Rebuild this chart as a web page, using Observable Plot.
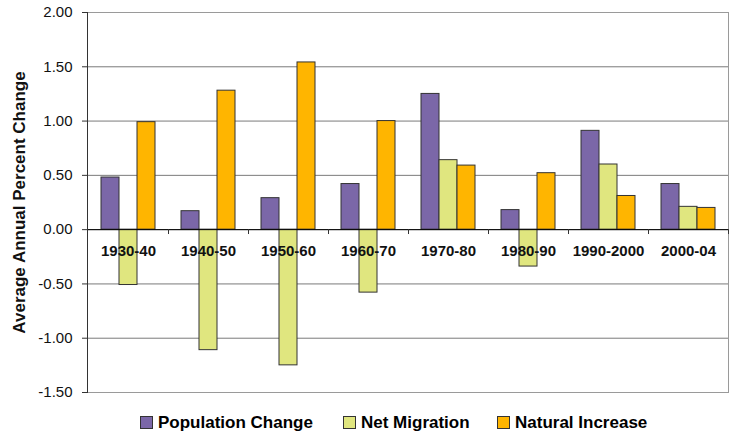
<!DOCTYPE html>
<html><head><meta charset="utf-8">
<script src="https://cdn.jsdelivr.net/npm/d3@7"></script>
<script src="https://cdn.jsdelivr.net/npm/@observablehq/plot@0.6"></script>
<style>
body{margin:0;background:#fff;font-family:"Liberation Sans",Arial,sans-serif;}
#chart{position:relative;width:733px;height:436px;overflow:hidden;}
.legend{position:absolute;top:413px;left:0;width:733px;height:19px;font-weight:bold;font-size:17px;color:#000;}
.item{position:absolute;top:0;height:19px;display:flex;align-items:center;white-space:nowrap;}
.sw{width:11px;height:11px;border:1px solid #333;margin-right:5px;box-sizing:content-box;}
</style></head><body><div id="chart"></div>
<script>
const periods = ["1930-40","1940-50","1950-60","1960-70","1970-80","1980-90","1990-2000","2000-04"];
const populationChange = [0.48, 0.17, 0.29, 0.42, 1.25, 0.18, 0.91, 0.42];
const netMigration = [-0.51, -1.11, -1.25, -0.58, 0.64, -0.34, 0.60, 0.21];
const naturalIncrease = [0.99, 1.28, 1.54, 1.00, 0.59, 0.52, 0.31, 0.20];
const seriesNames = ["Population Change","Net Migration","Natural Increase"];
const seriesColors = ["#7B67A8","#E0E67F","#FFB500"];
const yTicks = [-1.5, -1, -0.5, 0, 0.5, 1, 1.5, 2];
const yTitle = "Average Annual Percent Change";

const seriesValues = [populationChange, netMigration, naturalIncrease];
const rows = [];
seriesNames.forEach((s, i) => periods.forEach((p, j) => rows.push({period: p, series: s, value: seriesValues[i][j]})));

// inset layout within each 80px band: 13px gap, three 18px bars, 13px gap
const insets = [[13, 49], [31, 31], [49, 13]];

const marks = [
  Plot.gridY(yTicks, {stroke: "#7a7a7a", strokeOpacity: 1}),
  Plot.frame({stroke: "#9a9a9a"}),
  ...seriesNames.map((s, i) => Plot.barY(rows.filter(r => r.series === s), {
    x: "period", y: "value", fill: seriesColors[i], stroke: "#333", strokeWidth: 1,
    insetLeft: insets[i][0], insetRight: insets[i][1]
  })),
  Plot.ruleY([0], {stroke: "#000"}),
  Plot.ruleX(periods, {x: d => d, dx: 40, y1: 0, y2: -0.045, stroke: "#333"}),
  Plot.frame({anchor: "left", stroke: "#333"}),
  Plot.text(periods, {x: d => d, y: 0, dy: 22, fontSize: 15, fontWeight: "bold", fill: "#111"}),
  Plot.axisY(yTicks, {tickFormat: d => d.toFixed(2), tickSize: 5, tickPadding: 10, fontSize: 15, label: null, stroke: "#333"}),
  Plot.text([yTitle], {frameAnchor: "left", dx: -68, rotate: -90, textAnchor: "middle", fontSize: 17, fontWeight: "bold", fill: "#111"})
];

const chart = Plot.plot({
  width: 733, height: 400,
  marginTop: 12, marginBottom: 8, marginLeft: 87, marginRight: 5,
  x: {domain: periods, padding: 0, axis: null},
  y: {domain: [-1.5, 2], axis: null},
  style: {fontFamily: "'Liberation Sans', Arial, sans-serif", color: "#111", background: "#fff", overflow: "visible"},
  marks
});
const root = document.getElementById("chart");
root.appendChild(chart);

const legend = document.createElement("div");
legend.className = "legend";
const legendLefts = [140, 343, 497];
seriesNames.forEach((s, i) => {
  const it = document.createElement("div");
  it.className = "item";
  it.style.left = legendLefts[i] + "px";
  const sw = document.createElement("span");
  sw.className = "sw";
  sw.style.background = seriesColors[i];
  const t = document.createElement("span");
  t.textContent = s;
  it.appendChild(sw); it.appendChild(t);
  legend.appendChild(it);
});
root.appendChild(legend);
</script></body></html>
